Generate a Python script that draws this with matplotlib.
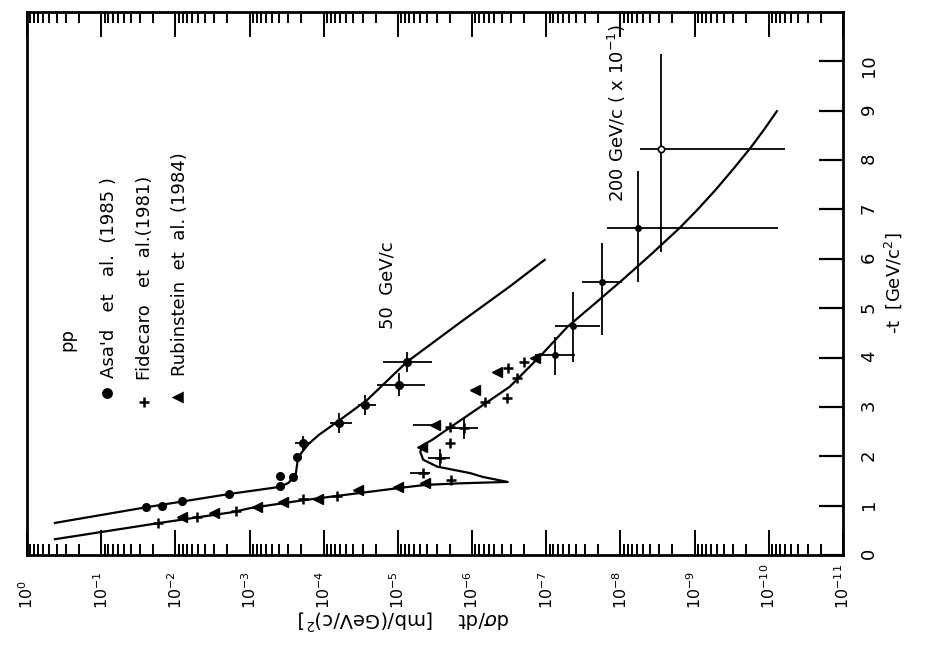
import numpy as np
import matplotlib.pyplot as plt
from matplotlib.ticker import FixedLocator, LogLocator, NullFormatter, FuncFormatter

plt.rcParams['font.family'] = ['DejaVu Sans']

# -t in (GeV/c)^2, dsigma/dt in mb/(GeV/c)^2
# fitted curve, 50 GeV/c
t_fit50 = [0.65, 0.97, 1.24, 1.38, 1.46, 1.56, 1.66, 1.93, 2.07, 2.25, 2.43,
           2.74, 3.14, 3.91, 4.71, 5.44, 5.98]
s_fit50 = [4.2e-1, 2.4e-2, 1.8e-3, 3.9e-4, 3.0e-4, 2.6e-4, 2.37e-4, 2.24e-4,
           2.0e-4, 1.6e-4, 1.17e-4, 6.0e-5, 2.6e-5, 7.6e-6, 1.45e-6, 3.1e-7, 1.05e-7]

# fitted curve, 200 GeV/c (scaled by 10^-1)
t_fit200 = [0.32, 0.65, 0.87, 0.95, 1.10, 1.23, 1.36, 1.42, 1.45, 1.47, 1.48,
            1.58, 1.66, 1.79, 1.93, 2.09, 2.23, 2.33, 2.58, 3.04, 3.41, 4.08,
            4.62, 5.10, 5.58, 6.10, 6.63, 7.00, 7.40, 7.85, 8.28, 8.65, 8.99]
s_fit200 = [4.2e-1, 1.62e-2, 1.66e-3, 9.8e-4, 2.09e-4, 4.47e-5, 9.3e-6, 4.27e-6,
            1.58e-6, 5.75e-7, 3.31e-7, 7.1e-7, 1.07e-6, 2.95e-6, 4.57e-6, 5.0e-6,
            4.57e-6, 3.47e-6, 2.0e-6, 7.1e-7, 3.1e-7, 1.12e-7, 5.2e-8, 2.19e-8,
            9.3e-9, 3.8e-9, 1.58e-9, 9.1e-10, 5.2e-10, 2.9e-10, 1.7e-10, 1.12e-10,
            7.8e-11]

# Asa'd et al. (1985), 50 GeV/c
t_asad = [0.97, 0.99, 1.10, 1.24, 1.40, 1.60, 1.58, 1.99]
s_asad = [2.5e-2, 1.5e-2, 8.1e-3, 1.9e-3, 3.9e-4, 3.9e-4, 2.6e-4, 2.3e-4]
t_asad_e = [2.27, 2.68, 3.04, 3.45, 3.91]
s_asad_e = [1.9e-4, 6.2e-5, 2.8e-5, 9.8e-6, 7.6e-6]
dt_asad_e = [0.15, 0.20, 0.20, 0.23, 0.20]
slo_asad_e = [1.5e-4, 4.2e-5, 2.0e-5, 4.3e-6, 3.5e-6]
shi_asad_e = [2.45e-4, 8.3e-5, 3.5e-5, 1.9e-5, 1.6e-5]

# Fidecaro et al. (1981)
t_fid = [0.65, 0.77, 0.89, 1.14, 1.20, 1.52, 2.27, 2.60, 3.10, 3.18, 3.79, 3.59, 3.91]
s_fid = [1.7e-2, 5.1e-3, 1.5e-3, 1.9e-4, 6.6e-5, 1.9e-6, 2.0e-6, 2.0e-6,
         6.8e-7, 3.4e-7, 3.3e-7, 2.5e-7, 2.0e-7]
t_fid_e = [1.66, 1.97, 2.58]
s_fid_e = [4.6e-6, 2.7e-6, 1.3e-6]
dt_fid_e = [0.0, 0.17, 0.22]
slo_fid_e = [3.7e-6, 2.0e-6, 8.3e-7]
shi_fid_e = [6.9e-6, 3.9e-6, 1.86e-6]

# Rubinstein et al. (1984)
t_rub = [0.77, 0.85, 0.97, 1.08, 1.14, 1.32, 1.38, 1.46, 2.19, 3.35, 3.71, 3.99]
s_rub = [8.1e-3, 3.0e-3, 7.9e-4, 3.5e-4, 1.2e-4, 3.5e-5, 1.0e-5, 4.3e-6,
         4.7e-6, 9.1e-7, 4.6e-7, 1.4e-7]
t_rub_e = [2.64]
s_rub_e = [3.2e-6]
slo_rub_e = [2.8e-6]
shi_rub_e = [6.3e-6]

# large |t| points at 200 GeV/c with wide bins
t_big = [4.06, 4.63, 5.54, 6.63, 8.22]
s_big = [7.6e-8, 4.3e-8, 1.8e-8, 5.8e-9, 2.8e-9]
dt_big_lo = [0.41, 0.72, 1.08, 1.09, 2.09]
dt_big_hi = [0.36, 0.70, 0.79, 1.14, 1.92]
slo_big = [4.1e-8, 1.9e-8, 9.5e-9, 7.6e-11, 6.0e-11]
shi_big = [1.4e-7, 7.6e-8, 3.3e-8, 1.5e-8, 5.5e-9]

decades = np.arange(0, 12)
t_ticks = np.arange(0, 11)


def xerr(s, lo, hi):
    s, lo, hi = np.array(s), np.array(lo), np.array(hi)
    return [s - lo, hi - s]


fig = plt.figure(figsize=(9.33, 6.68), dpi=100)
ax = fig.add_axes([27 / 933, 113 / 668, 816 / 933, 543 / 668])
ax.set_xscale('log')
ax.set_xlim(1, 1e-11)
ax.set_ylim(0, 11)

# curves
ax.plot(s_fit50, t_fit50, color='k', lw=1.6)
ax.plot(s_fit200, t_fit200, color='k', lw=1.6)

# error bars
eb = dict(fmt='none', ecolor='k', elinewidth=1.3, capsize=0)
ax.errorbar(s_asad_e, t_asad_e, xerr=xerr(s_asad_e, slo_asad_e, shi_asad_e), yerr=dt_asad_e, **eb)
ax.errorbar(s_fid_e, t_fid_e, xerr=xerr(s_fid_e, slo_fid_e, shi_fid_e), yerr=dt_fid_e, **eb)
ax.errorbar(s_rub_e, t_rub_e, xerr=xerr(s_rub_e, slo_rub_e, shi_rub_e), **eb)
ax.errorbar(s_big, t_big, xerr=xerr(s_big, slo_big, shi_big), yerr=[dt_big_lo, dt_big_hi], **eb)

# markers
ax.plot(s_asad + s_asad_e, t_asad + t_asad_e, 'o', color='k', ms=5.5, ls='none')
ax.plot(s_fid + s_fid_e, t_fid + t_fid_e, '+', color='k', ms=7, mew=1.8, ls='none')
ax.plot(s_rub + s_rub_e, t_rub + t_rub_e, '<', color='k', ms=7, ls='none')
ax.plot(s_big[:4], t_big[:4], 'o', color='k', ms=4, ls='none')
ax.plot(s_big[4:], t_big[4:], 'o', mfc='white', mec='k', mew=1.2, ms=4.5, ls='none')

# axes, ticks
for sp in ax.spines.values():
    sp.set_linewidth(2)
ax.xaxis.set_major_locator(FixedLocator(10.0 ** -decades))
ax.xaxis.set_major_formatter(FuncFormatter(lambda v, p: r'$10^{%d}$' % round(np.log10(v))))
ax.xaxis.set_minor_locator(LogLocator(base=10, subs=np.arange(2, 10), numticks=200))
ax.xaxis.set_minor_formatter(NullFormatter())
ax.tick_params(axis='x', which='both', top=True, bottom=True, direction='in', width=1.4)
ax.tick_params(axis='x', which='major', length=18, labelsize=11.5, labelrotation=90, pad=39)
ax.tick_params(axis='x', which='minor', length=8)
# exponent labels share a common baseline, exponents running upward
plt.setp(ax.get_xticklabels(), va='bottom')

ax.yaxis.tick_right()
ax.yaxis.set_major_locator(FixedLocator(t_ticks))
ax.tick_params(axis='y', which='major', right=True, left=False, direction='in',
               length=17, width=1.6, labelsize=13, labelrotation=90, pad=12)

ax.text(1.061, 0.5, '-t  [GeV/c$^{2}$]', transform=ax.transAxes, rotation=90,
        ha='center', va='center', fontsize=13)
ax.text(0.462, -0.12, r'd$\sigma$/dt    [mb/(GeV/c)$^{2}$]', transform=ax.transAxes,
        rotation=180, ha='center', va='center', fontsize=14)

# labels inside the frame
ax.text(0.442, 0.497, '50  GeV/c', transform=ax.transAxes, rotation=90,
        ha='center', va='center', fontsize=13)
ax.text(0.723, 0.814, '200 GeV/c ( x 10$^{-1}$)', transform=ax.transAxes, rotation=90,
        ha='center', va='center', fontsize=13)

# key
ax.text(0.050, 0.396, 'pp', transform=ax.transAxes, rotation=90,
        ha='center', va='center', fontsize=13)
key = [('o', "Asa'd   et   al.  (1985 )", 0.098, 0.298, 0.326),
       ('+', 'Fidecaro   et  al.(1981)', 0.143, 0.282, 0.322),
       ('<', 'Rubinstein  et  al. (1984)', 0.185, 0.291, 0.330)]
for mk, label, kx, ky, ty in key:
    ax.plot([kx], [ky], mk, color='k', ms=6 if mk != '+' else 7, mew=1.8,
            transform=ax.transAxes, clip_on=False)
    ax.text(kx + 0.002, ty, label, transform=ax.transAxes, rotation=90,
            ha='center', va='bottom', fontsize=13)

fig.savefig('out.png', dpi=100)
